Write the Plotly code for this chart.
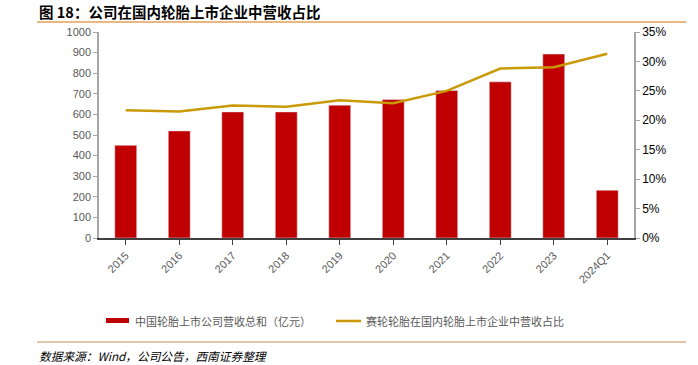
import plotly.graph_objects as go

categories = ["2015", "2016", "2017", "2018", "2019", "2020", "2021", "2022", "2023", "2024Q1"]
revenue = [450, 520, 612, 612, 645, 672, 716, 758, 893, 232]
share = [21.7, 21.5, 22.5, 22.3, 23.4, 22.9, 25.0, 28.8, 29.0, 31.3]

bar_name = "中国轮胎上市公司营收总和（亿元）"
line_name = "赛轮轮胎在国内轮胎上市企业中营收占比"

W, H = 698, 365
L, R, T, B = 99, 64, 32, 127

fig = go.Figure()
fig.add_trace(go.Bar(x=categories, y=revenue, name=bar_name, marker_color="#C00000",
                     width=0.41, showlegend=False))
fig.add_trace(go.Scatter(x=categories, y=share, name=line_name, yaxis="y2", mode="lines",
                         line=dict(color="#C99A06", width=2.5), showlegend=False))

font = "Noto Sans CJK SC"
fig.update_layout(
    width=W, height=H,
    margin=dict(l=L, r=R, t=T, b=B),
    plot_bgcolor="white", paper_bgcolor="white",
    font=dict(family=font, size=11, color="#595959"),
    xaxis=dict(type="category", showline=True, linecolor="#404040", linewidth=1.5,
               ticks="outside", ticklen=5, tickcolor="#404040", tickangle=-45,
               tickfont=dict(family="Liberation Sans", size=11, color="#595959"),
               showgrid=False, zeroline=False),
    yaxis=dict(range=[0, 1000], dtick=100, showline=True, linecolor="#A6A6A6", linewidth=1.5,
               ticks="outside", ticklen=4, tickcolor="#A6A6A6", showgrid=False, zeroline=False,
               tickfont=dict(family="Liberation Sans", size=11, color="#595959")),
    yaxis2=dict(range=[0, 35], dtick=5, overlaying="y", side="right", ticksuffix="%",
                showline=True, linecolor="#A6A6A6", linewidth=1.5, ticks="outside", ticklen=4,
                tickcolor="#A6A6A6", showgrid=False, zeroline=False,
                tickfont=dict(family="Liberation Sans", size=12, color="#000000")),
    bargap=0.59,
)

pw, ph = W - L - R, H - T - B
def ax(xp):
    return (xp - L) / pw
def ay(yp):
    return (H - B - yp) / ph

# separator lines
fig.add_shape(type="line", xref="paper", yref="paper", x0=ax(37), x1=ax(686), y0=ay(22), y1=ay(22),
              line=dict(color="#E0A15A", width=1.5))
fig.add_shape(type="line", xref="paper", yref="paper", x0=ax(37), x1=ax(686), y0=ay(342), y1=ay(342),
              line=dict(color="#D9B48C", width=1.5))

ann = []
ann.append(dict(x=ax(37), y=ay(11), xref="paper", yref="paper", xanchor="left", yanchor="middle",
                text="<b>图 18：公司在国内轮胎上市企业中营收占比</b>", showarrow=False,
                font=dict(family=font, size=14.5, color="#000000")))
ann.append(dict(x=ax(37), y=ay(355), xref="paper", yref="paper", xanchor="left", yanchor="middle",
                text="<i>数据来源：Wind，公司公告，西南证券整理</i>", showarrow=False,
                font=dict(family=font, size=11.7, color="#000000")))
# legend
fig.add_shape(type="rect", xref="paper", yref="paper", x0=ax(106), x1=ax(129), y0=ay(318), y1=ay(323),
              fillcolor="#C00000", line=dict(width=0))
ann.append(dict(x=ax(133), y=ay(321), xref="paper", yref="paper", xanchor="left", yanchor="middle",
                text=bar_name, showarrow=False, font=dict(family=font, size=11, color="#595959")))
fig.add_shape(type="line", xref="paper", yref="paper", x0=ax(336), x1=ax(361), y0=ay(321), y1=ay(321),
              line=dict(color="#C99A06", width=2.5))
ann.append(dict(x=ax(364), y=ay(321), xref="paper", yref="paper", xanchor="left", yanchor="middle",
                text=line_name, showarrow=False, font=dict(family=font, size=11, color="#595959")))
fig.update_layout(annotations=ann)

fig.write_html("out.html", config={"displayModeBar": False},
               post_script="document.body.style.margin='0';")
